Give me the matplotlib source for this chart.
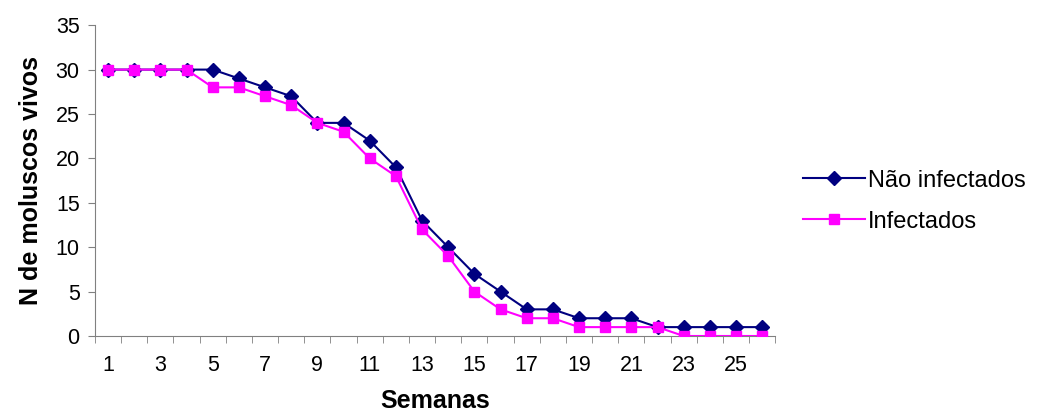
import numpy as np
import matplotlib.pyplot as plt

semanas = np.arange(1, 27)
nao_infectados = [30, 30, 30, 30, 30, 29, 28, 27, 24, 24, 22, 19, 13, 10, 7, 5,
                  3, 3, 2, 2, 2, 1, 1, 1, 1, 1]
infectados = [30, 30, 30, 30, 28, 28, 27, 26, 24, 23, 20, 18, 12, 9, 5, 3,
              2, 2, 1, 1, 1, 1, 0, 0, 0, 0]

plt.rcParams['font.family'] = ['Liberation Sans', 'DejaVu Sans']

fig = plt.figure(figsize=(10.37, 4.2), dpi=100)
ax = fig.add_axes([0.0916, 0.2, 0.656, 0.740])

ax.plot(semanas, nao_infectados, color='#000080', marker='D', markersize=7.5,
        linewidth=1.5, label='Não infectados', zorder=2)
ax.plot(semanas, infectados, color='#FF00FF', marker='s', markersize=7.5,
        linewidth=1.5, label='Infectados', zorder=3)

ax.set_xlim(0.5, 26.5)
ax.set_ylim(0, 35)
ax.set_yticks(np.arange(0, 36, 5))
ax.set_xticks(semanas[::2])
ax.set_xticks(np.arange(0.5, 27, 1), minor=True)
ax.tick_params(axis='x', which='major', length=0, pad=14, labelsize=15.5)
ax.tick_params(axis='x', which='minor', length=5, color='#808080')
ax.tick_params(axis='y', length=5, color='#808080', labelsize=15.5, pad=6)

for s in ['top', 'right']:
    ax.spines[s].set_visible(False)
for s in ['left', 'bottom']:
    ax.spines[s].set_color('#808080')

ax.set_ylabel('N de moluscos vivos', fontsize=18, fontweight='bold', labelpad=9)
ax.set_xlabel('Semanas', fontsize=18, fontweight='bold', labelpad=9)

ax.legend(loc='center left', bbox_to_anchor=(1.01, 0.434), frameon=False,
          fontsize=17, handlelength=2.6, handletextpad=0.15, labelspacing=0.8)

fig.savefig('out.png', dpi=100)
